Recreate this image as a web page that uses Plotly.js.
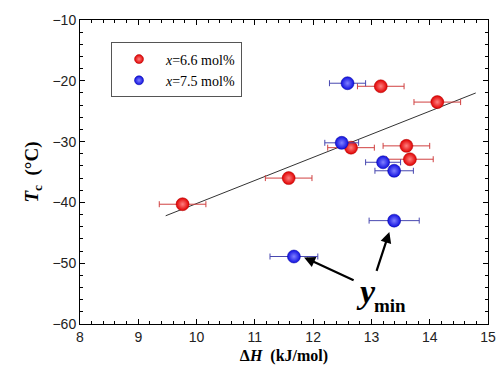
<!DOCTYPE html>
<html><head><meta charset="utf-8">
<script src="https://cdn.plot.ly/plotly-3.0.1.min.js"></script>
<style>body{margin:0;background:#fff}#plot{width:502px;height:382px}</style>
</head><body><div id="plot"></div>
<script>
// Red series: x = 6.6 mol%
const redDH   = [13.16, 14.13, 13.60, 13.66, 12.65, 11.58, 9.76];
const redTc   = [-20.9, -23.5, -30.7, -32.9, -31.0, -36.0, -40.3];
const redErrX = [0.4, 0.4, 0.4, 0.4, 0.4, 0.4, 0.4];
// Blue series: x = 7.5 mol%
const blueDH   = [12.59, 12.49, 13.20, 13.39, 13.39, 11.67];
const blueTc   = [-20.4, -30.2, -33.4, -34.8, -43.0, -48.9];
const blueErrX = [0.31, 0.29, 0.30, 0.33, 0.43, 0.41];
const blueErrY = [0.6, 0.6, 0.6, 0.6, 0.6, 0.6];
// linear fit line endpoints
const fitDH = [9.47, 14.79];
const fitTc = [-42.2, -22.0];
const legendNames = ['<i>x</i>=6.6 mol%', '<i>x</i>=7.5 mol%'];

const serif = 'Liberation Serif';
const sans = 'Arial';

const redMarker = {size: 13, color: '#e00000', gradient: {type: 'radial', color: '#ff8080'}, line: {width: 0.5, color: '#b00000'}};
const blueMarker = {size: 13, color: '#1010e0', gradient: {type: 'radial', color: '#8080ff'}, line: {width: 0.5, color: '#0000a0'}};

const traces = [
  {x: fitDH, y: fitTc, mode: 'lines', line: {color: '#333', width: 1}, showlegend: false, hoverinfo: 'skip'},
  {x: redDH, y: redTc, mode: 'markers', name: legendNames[0], showlegend: false,
   error_x: {type: 'data', array: redErrX, color: '#d04040', thickness: 1, width: 3},
   marker: redMarker},
  {x: blueDH, y: blueTc, mode: 'markers', name: legendNames[1], showlegend: false,
   error_x: {type: 'data', array: blueErrX, color: '#4848b0', thickness: 1, width: 3},
   error_y: {type: 'data', array: blueErrY, color: '#4848b0', thickness: 1, width: 3},
   marker: blueMarker},
  // legend-only entries with smaller symbols
  {x: [null], y: [null], mode: 'markers', name: legendNames[0],
   marker: Object.assign({}, redMarker, {size: 9})},
  {x: [null], y: [null], mode: 'markers', name: legendNames[1],
   marker: Object.assign({}, blueMarker, {size: 9})}
];

const axisCommon = {
  showgrid: false, zeroline: false, showline: true, linecolor: '#000', linewidth: 1,
  mirror: 'allticks', ticks: 'inside', ticklen: 5, tickcolor: '#000', tickwidth: 1,
  tickfont: {family: sans, size: 14, color: '#222'},
  minor: {ticks: 'inside', ticklen: 3, tickcolor: '#000', tickwidth: 1}
};

const layout = {
  width: 502, height: 382,
  margin: {l: 80, r: 14, t: 20, b: 58},
  paper_bgcolor: '#fff', plot_bgcolor: '#fff',
  xaxis: Object.assign({}, axisCommon, {range: [8, 15], dtick: 1, tick0: 8,
    minor: Object.assign({}, axisCommon.minor, {dtick: 0.2}),
    title: {text: '<b>Δ<i>H</i>  (kJ/mol)</b>', font: {family: serif, size: 16, color: '#000'}, standoff: 6}}),
  yaxis: Object.assign({}, axisCommon, {range: [-60, -10], dtick: 10, tick0: -60,
    minor: Object.assign({}, axisCommon.minor, {dtick: 2}),
    title: {text: '<b><i>T</i><sub>c</sub>  (°C)</b>', font: {family: serif, size: 19, color: '#000'}, standoff: 8}}),
  showlegend: true,
  legend: {x: 0.076, y: 0.926, xanchor: 'left', yanchor: 'top', bgcolor: '#fff',
    bordercolor: '#555', borderwidth: 1, font: {family: serif, size: 14, color: '#000'},
    itemwidth: 44, entrywidth: 120, tracegroupgap: 0},
  annotations: [
    {x: 11.72, y: -48.5, ax: 12.72, ay: -52.9, xref: 'x', yref: 'y', axref: 'x', ayref: 'y',
     text: '', showarrow: true, arrowhead: 2, arrowsize: 1, arrowwidth: 2.2, arrowcolor: '#000', standoff: 8},
    {x: 13.35, y: -43.6, ax: 13.08, ay: -51.5, xref: 'x', yref: 'y', axref: 'x', ayref: 'y',
     text: '', showarrow: true, arrowhead: 2, arrowsize: 1, arrowwidth: 2.2, arrowcolor: '#000', standoff: 8},
    {x: 12.90, y: -54.6, xref: 'x', yref: 'y', showarrow: false, xanchor: 'center',
     text: '<b><i>y</i></b>', font: {family: serif, size: 34, color: '#000'}},
    {x: 13.31, y: -57.0, xref: 'x', yref: 'y', showarrow: false, xanchor: 'center',
     text: '<b>min</b>', font: {family: serif, size: 19, color: '#000'}}
  ]
};

Plotly.newPlot('plot', traces, layout, {staticPlot: true});
</script>
</body></html>
